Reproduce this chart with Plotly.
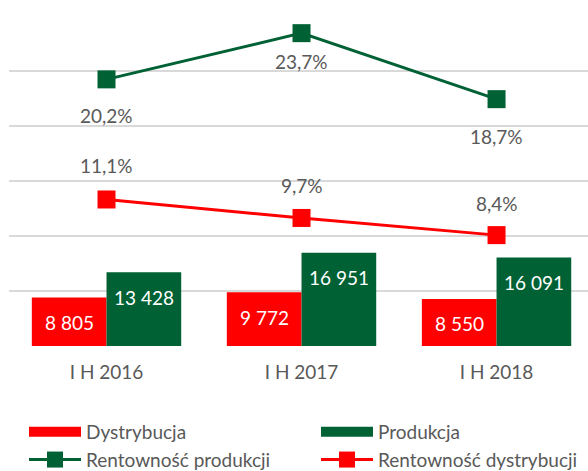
import plotly.graph_objects as go

# ---- data ----
categories = ["I H 2016", "I H 2017", "I H 2018"]
dystrybucja = [8805, 9772, 8550]
produkcja = [13428, 16951, 16091]
rent_produkcji = [20.2, 23.7, 18.7]
rent_dystrybucji = [11.1, 9.7, 8.4]

# ---- style ----
RED = "#FF0000"
GREEN = "#006135"
GREY = "#595959"
GRID = "#D9D9D9"
FONT = "Lato"
FS = 19
green_label_shift = [-36, -28, -37]
red_label_shift = [34, 32, 32]


def fmt_int(v):
    return f"{v:,}".replace(",", " ")


def fmt_pct(v):
    return f"{v:.1f}%".replace(".", ",")


fig = go.Figure()
fig.add_trace(go.Bar(x=categories, y=dystrybucja, name="Dystrybucja",
                     marker=dict(color=RED, line=dict(width=0)), showlegend=False,
                     hoverinfo="skip"))
fig.add_trace(go.Bar(x=categories, y=produkcja, name="Produkcja",
                     marker=dict(color=GREEN, line=dict(width=0)), showlegend=False,
                     hoverinfo="skip"))
fig.add_trace(go.Scatter(x=categories, y=rent_produkcji, name="Rentowność produkcji",
                         mode="lines+markers", yaxis="y2", legend="legend",
                         legendrank=2,
                         line=dict(color=GREEN, width=3),
                         marker=dict(symbol="square", size=18, color=GREEN)))
fig.add_trace(go.Scatter(x=categories, y=rent_dystrybucji, name="Rentowność dystrybucji",
                         mode="lines+markers", yaxis="y2", legend="legend2",
                         legendrank=2,
                         line=dict(color=RED, width=3),
                         marker=dict(symbol="square", size=18, color=RED)))
# legend swatches for the bars (no visible data)
fig.add_trace(go.Scatter(x=[categories[0]], y=[None], mode="lines", name="Dystrybucja",
                         line=dict(color=RED, width=12), yaxis="y2", legend="legend",
                         legendrank=1, hoverinfo="skip"))
fig.add_trace(go.Scatter(x=[categories[0]], y=[None], mode="lines", name="Produkcja",
                         line=dict(color=GREEN, width=12), yaxis="y2", legend="legend2",
                         legendrank=1, hoverinfo="skip"))

ann = []
for c, v in zip(categories, dystrybucja):
    ann.append(dict(x=c, y=v, xref="x", yref="y", text=fmt_int(v), showarrow=False,
                    xshift=-37, yshift=-25, font=dict(color="white", size=FS, family=FONT)))
for c, v in zip(categories, produkcja):
    ann.append(dict(x=c, y=v, xref="x", yref="y", text=fmt_int(v), showarrow=False,
                    xshift=37, yshift=-25, font=dict(color="white", size=FS, family=FONT)))
for c, v, s in zip(categories, rent_produkcji, green_label_shift):
    ann.append(dict(x=c, y=v, xref="x", yref="y2", text=fmt_pct(v), showarrow=False,
                    yshift=s, font=dict(color=GREY, size=FS, family=FONT)))
for c, v, s in zip(categories, rent_dystrybucji, red_label_shift):
    ann.append(dict(x=c, y=v, xref="x", yref="y2", text=fmt_pct(v), showarrow=False,
                    yshift=s, font=dict(color=GREY, size=FS, family=FONT)))

legend_common = dict(orientation="v", xref="container", yref="container",
                     xanchor="left", yanchor="top", itemwidth=52, traceorder="normal",
                     font=dict(size=FS, color=GREY, family=FONT),
                     bgcolor="rgba(0,0,0,0)")

fig.update_layout(
    width=588, height=471,
    margin=dict(l=9, r=0, t=16, b=125, autoexpand=False),
    paper_bgcolor="white", plot_bgcolor="white",
    font=dict(family=FONT, size=FS, color=GREY),
    barmode="group", bargap=0.234, bargroupgap=0,
    xaxis=dict(type="category", categoryorder="array", categoryarray=categories,
               range=[-0.5, 2.469], autorange=False, showgrid=False, zeroline=False,
               showline=False, ticks="outside", ticklen=9, tickcolor="rgba(0,0,0,0)",
               tickfont=dict(size=FS, color=GREY, family=FONT)),
    yaxis=dict(range=[0, 60000], dtick=10000, showticklabels=False, showgrid=True,
               gridcolor=GRID, gridwidth=2, zeroline=False, showline=False, ticks=""),
    yaxis2=dict(range=[0, 25], overlaying="y", side="right", showgrid=False,
                showticklabels=False, zeroline=False, showline=False, ticks=""),
    legend=dict(legend_common, x=24 / 588, y=1 - 413 / 471),
    legend2=dict(legend_common, x=316 / 588, y=1 - 413 / 471),
    annotations=ann,
)

fig.write_html("out.html")
